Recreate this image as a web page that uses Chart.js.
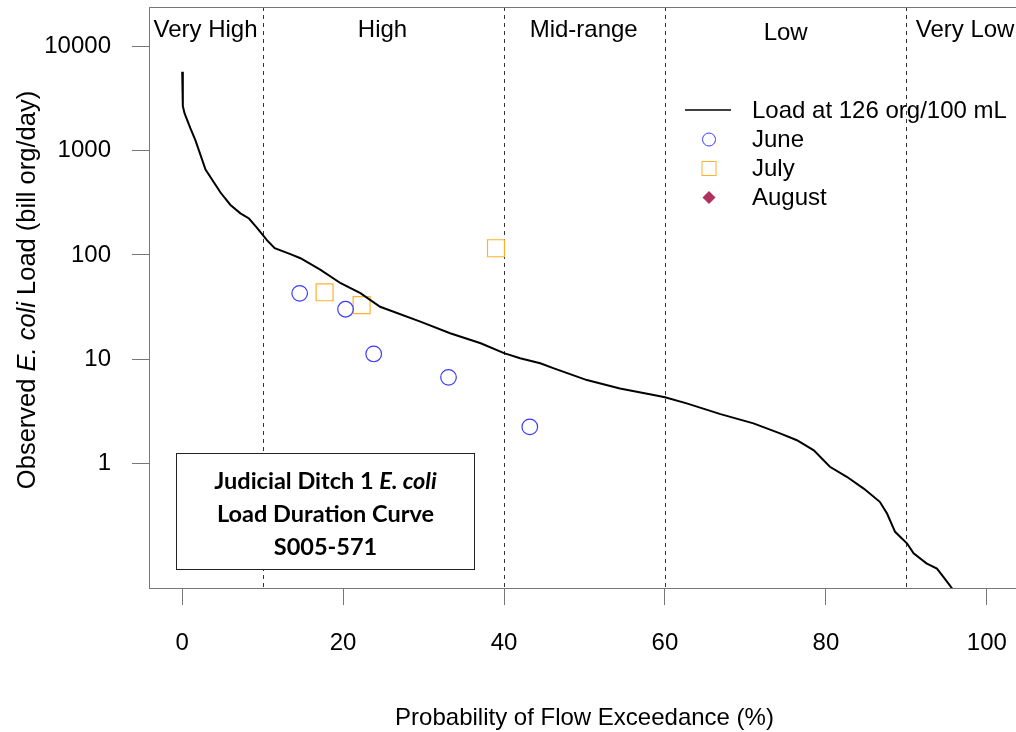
<!DOCTYPE html>
<html>
<head>
<meta charset="utf-8">
<script src="https://cdn.jsdelivr.net/npm/chart.js@4.4.1/dist/chart.umd.min.js"></script>
<style>
  html, body { margin: 0; padding: 0; background: #fff; overflow: hidden; }
  #ldc { display: block; }
</style>
</head>
<body>
<canvas id="ldc" width="1040" height="732" style="width:1040px;height:732px"></canvas>
<script>
// Load duration curve at 126 org/100 mL: flow exceedance (%) vs load (billion org/day)
const curveExceedance = [0.0, 0.08, 0.3, 1.0, 1.65, 2.9, 4.76, 6.0, 7.24, 8.3, 9.3, 10.56, 11.5, 13.45,
  14.7, 17.2, 19.7, 22.15, 24.6, 29.6, 33.3, 37.1, 40.0, 42.0, 44.5, 46.2, 50.3, 54.4, 58.6, 60.0,
  62.7, 66.9, 71.0, 74.3, 76.4, 78.5, 80.5, 82.6, 84.7, 86.7, 87.6, 88.6, 90.1, 90.9, 92.5, 93.8,
  94.6, 95.4, 96.2];
const curveLoad = [5750, 2690, 2290, 1660, 1260, 661, 398, 302, 251, 224, 182, 138, 116, 102,
  93, 71.8, 53.5, 42.9, 31.8, 22.9, 17.7, 14.2, 11.4, 10.2, 9.1, 8.13, 6.28, 5.22, 4.51, 4.29,
  3.75, 2.96, 2.41, 1.93, 1.66, 1.33, 0.923, 0.740, 0.570, 0.425, 0.328, 0.219, 0.169, 0.136, 0.109, 0.097,
  0.081, 0.067, 0.055];

// Observed monthly samples
const juneExceedance = [14.6, 20.3, 23.8, 33.1, 43.2];
const juneLoad = [42.8, 30.1, 11.2, 6.67, 2.23];
const julyExceedance = [17.7, 22.3, 39.0];
const julyLoad = [43.8, 33.0, 116];
const augustExceedance = [];
const augustLoad = [];

// Axis ticks and flow zones
const xTickValues = [0, 20, 40, 60, 80, 100];
const xTickLabels = ['0', '20', '40', '60', '80', '100'];
const yTickValues = [1, 10, 100, 1000, 10000];
const yTickLabels = ['1', '10', '100', '1000', '10000'];
const zoneBreaks = [10, 40, 60, 90];
const zoneNames = ['Very High', 'High', 'Mid-range', 'Low', 'Very Low'];
const legendNames = ['Load at 126 org/100 mL', 'June', 'July', 'August'];

// Styling / placement
const FONT = '"Liberation Sans", Arial, sans-serif';
const TITLE_FONT = 'Lato, "Open Sans", sans-serif';
const TITLE_SIZE = 23.5;
const FRAME_COLOR = '#777';
const JUNE_COLOR = '#3a3aff';
const JULY_COLOR = '#ffb02e';
const AUGUST_COLOR = '#b03060';
const zoneLabelAt = [2.9, 24.9, 49.9, 75.0, 97.3];
const zoneLabelBaseline = [36.5, 36.5, 36.5, 40, 36.5];

const toPoints = (xs, ys) => xs.map((v, i) => ({ x: v, y: ys[i] }));

const decor = {
  id: 'ldcDecor',
  beforeDatasetsDraw(chart) {
    const { ctx, chartArea: a, scales: { x } } = chart;
    ctx.save();
    ctx.strokeStyle = '#333';
    ctx.lineWidth = 1;
    ctx.setLineDash([4, 4]);
    zoneBreaks.forEach(b => {
      const px = Math.round(x.getPixelForValue(b)) + 0.5;
      ctx.beginPath();
      ctx.moveTo(px, a.top);
      ctx.lineTo(px, a.bottom);
      ctx.stroke();
    });
    ctx.restore();
  },
  afterDraw(chart) {
    const { ctx, chartArea: a, scales: { x } } = chart;
    ctx.save();

    // plot frame
    ctx.strokeStyle = FRAME_COLOR;
    ctx.lineWidth = 1;
    ctx.strokeRect(Math.round(a.left) - 0.5, Math.round(a.top) + 0.5,
      Math.round(a.right - a.left) + 1, Math.round(a.bottom - a.top));

    // flow zone names
    ctx.fillStyle = '#000';
    ctx.font = '24px ' + FONT;
    ctx.textAlign = 'center';
    ctx.textBaseline = 'alphabetic';
    zoneNames.forEach((n, i) => ctx.fillText(n, x.getPixelForValue(zoneLabelAt[i]), zoneLabelBaseline[i]));

    // legend
    const lx = 709, ly = [110, 139.5, 168.5, 197.5];
    ctx.strokeStyle = '#000';
    ctx.lineWidth = 1.3;
    ctx.beginPath(); ctx.moveTo(685, ly[0]); ctx.lineTo(731, ly[0]); ctx.stroke();
    ctx.lineWidth = 1;
    ctx.strokeStyle = JUNE_COLOR;
    ctx.beginPath(); ctx.arc(lx, ly[1], 6.5, 0, Math.PI * 2); ctx.stroke();
    ctx.strokeStyle = JULY_COLOR;
    ctx.strokeRect(lx - 7, ly[2] - 7, 14, 14);
    ctx.fillStyle = AUGUST_COLOR;
    ctx.beginPath();
    ctx.moveTo(lx, ly[3] - 6.5); ctx.lineTo(lx + 6.5, ly[3]); ctx.lineTo(lx, ly[3] + 6.5); ctx.lineTo(lx - 6.5, ly[3]);
    ctx.closePath(); ctx.fill();
    ctx.fillStyle = '#000';
    ctx.textAlign = 'left';
    ctx.textBaseline = 'middle';
    legendNames.forEach((n, i) => ctx.fillText(n, 752, ly[i] + 1));

    // x axis title
    ctx.textAlign = 'center';
    ctx.textBaseline = 'alphabetic';
    ctx.fillText('Probability of Flow Exceedance (%)', (a.left + a.right) / 2, 724.5);

    // y axis title with italic species name
    const yParts = [['Observed ', ''], ['E. coli', 'italic '], [' Load (bill org/day)', '']];
    ctx.save();
    ctx.translate(34.5, 290);
    ctx.rotate(-Math.PI / 2);
    let total = 0;
    yParts.forEach(p => { ctx.font = p[1] + '25.5px ' + FONT; total += ctx.measureText(p[0]).width; });
    let cx = -total / 2;
    ctx.textAlign = 'left';
    yParts.forEach(p => { ctx.font = p[1] + '25.5px ' + FONT; ctx.fillText(p[0], cx, 0); cx += ctx.measureText(p[0]).width; });
    ctx.restore();

    // title box
    ctx.fillStyle = '#fff';
    ctx.fillRect(176, 453, 298, 116);
    ctx.strokeStyle = '#222';
    ctx.lineWidth = 1;
    ctx.strokeRect(176.5, 453.5, 298, 116);
    ctx.fillStyle = '#000';
    const tcx = 325.5;
    const l1 = [['Judicial Ditch 1 ', 'bold '], ['E. coli', 'italic bold ']];
    let w1 = 0;
    l1.forEach(p => { ctx.font = p[1] + TITLE_SIZE + 'px ' + TITLE_FONT; w1 += ctx.measureText(p[0]).width; });
    let sx = tcx - w1 / 2;
    ctx.textAlign = 'left';
    l1.forEach(p => { ctx.font = p[1] + TITLE_SIZE + 'px ' + TITLE_FONT; ctx.fillText(p[0], sx, 488.5); sx += ctx.measureText(p[0]).width; });
    ctx.textAlign = 'center';
    ctx.font = 'bold ' + TITLE_SIZE + 'px ' + TITLE_FONT;
    ctx.fillText('Load Duration Curve', tcx, 521.5);
    ctx.fillText('S005-571', tcx, 554.5);

    ctx.restore();
  }
};

// keep the plot region fixed: no extra room for edge tick labels
function fixX(s) { s.height = 144; s.paddingLeft = 0; s.paddingRight = 0; }
function fixY(s) { s.width = 150; s.paddingTop = 0; s.paddingBottom = 0; }

new Chart(document.getElementById('ldc'), {
  type: 'scatter',
  data: {
    datasets: [
      {
        label: legendNames[0],
        data: toPoints(curveExceedance, curveLoad),
        showLine: true,
        borderColor: '#000',
        borderWidth: 2,
        pointRadius: 0,
        tension: 0
      },
      {
        label: legendNames[1],
        data: toPoints(juneExceedance, juneLoad),
        pointStyle: 'circle',
        pointRadius: 7.8,
        borderWidth: 1.2,
        borderColor: JUNE_COLOR,
        backgroundColor: 'rgba(0,0,0,0)'
      },
      {
        label: legendNames[2],
        data: toPoints(julyExceedance, julyLoad),
        pointStyle: 'rect',
        pointRadius: 12,
        borderWidth: 1.2,
        borderColor: JULY_COLOR,
        backgroundColor: 'rgba(0,0,0,0)'
      },
      {
        label: legendNames[3],
        data: toPoints(augustExceedance, augustLoad),
        pointStyle: 'rectRot',
        pointRadius: 7,
        borderColor: AUGUST_COLOR,
        backgroundColor: AUGUST_COLOR
      }
    ]
  },
  options: {
    responsive: false,
    devicePixelRatio: 1,
    animation: false,
    layout: { autoPadding: false, padding: { top: 7, right: 21, left: 0, bottom: 0 } },
    plugins: { legend: { display: false }, title: { display: false }, tooltip: { enabled: false } },
    scales: {
      x: {
        type: 'linear',
        min: -4,
        max: 104,
        afterFit: fixX,
        afterBuildTicks: s => { s.ticks = xTickValues.map(v => ({ value: v })); },
        grid: { drawOnChartArea: false, drawTicks: true, tickLength: 17, tickColor: FRAME_COLOR, tickWidth: 1 },
        border: { display: false },
        ticks: {
          autoSkip: false,
          maxRotation: 0,
          padding: 24,
          color: '#000',
          font: { family: FONT, size: 24 },
          callback: (v, i) => xTickLabels[i]
        }
      },
      y: {
        type: 'logarithmic',
        min: 0.0632,
        max: 24100,
        afterFit: fixY,
        afterBuildTicks: s => { s.ticks = yTickValues.map(v => ({ value: v })); },
        grid: { drawOnChartArea: false, drawTicks: true, tickLength: 18, tickColor: FRAME_COLOR, tickWidth: 1 },
        border: { display: false },
        ticks: {
          autoSkip: false,
          padding: 21,
          color: '#000',
          font: { family: FONT, size: 24 },
          callback: (v, i) => yTickLabels[i]
        }
      }
    }
  },
  plugins: [decor]
});
</script>
</body>
</html>
